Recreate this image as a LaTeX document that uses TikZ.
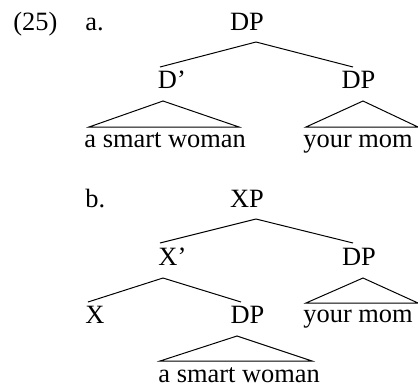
\documentclass[tikz,border=0pt]{standalone}
\usepackage{fontspec}
\setmainfont{Liberation Serif}
\usepackage{tikz}

\begin{document}
\begin{tikzpicture}[x=0.4545pt,y=-0.4545pt,font=\fontsize{12}{14.4}\selectfont,
  lbl/.style={inner sep=0pt,anchor=base west},
  cat/.style={inner sep=0pt,anchor=base},
  br/.style={line width=0.45pt}]
\useasboundingbox (0,0) rectangle (418,385);
% (25a)
\node[lbl] (num) at (13,30) {(25)};
\node[lbl] (ia) at (85,30) {a.};
\node[cat] (dpa) at (247,30) {DP};
\node[lbl] (dbar) at (157.5,88) {D’};
\node[cat] (dpr) at (358.5,88) {DP};
\node[lbl] (wa) at (84,147) {a smart woman};
\node[lbl] (ma) at (303,147) {your mom};
\draw[br] ([shift={(9,12)}]dpa.base) -- ([shift={(2.5,-21)}]dbar.base west);
\draw[br] ([shift={(9,12)}]dpa.base) -- ([shift={(-5.5,-21)}]dpr.base);
\draw[br] ([shift={(5.5,13)}]dbar.base west) -- ([shift={(5,-20)}]wa.base west)
  -- ([shift={(155,-20)}]wa.base west) -- cycle;
\draw[br] ([shift={(4.5,13)}]dpr.base) -- ([shift={(3,-20)}]ma.base west)
  -- ([shift={(115,-20)}]ma.base west) -- cycle;
% (25b)
\node[lbl] (ib) at (85,207) {b.};
\node[cat] (xp) at (247,207) {XP};
\node[lbl] (xbar) at (158,265) {X’};
\node[cat] (dpb) at (359,265) {DP};
\node[lbl] (xh) at (85,323) {X};
\node[cat] (dpc) at (247.5,323) {DP};
\node[lbl] (mb) at (303,322) {your mom};
\node[lbl] (wb) at (158,382) {a smart woman};
\draw[br] ([shift={(9,12)}]xp.base) -- ([shift={(2,-22)}]xbar.base west);
\draw[br] ([shift={(9,12)}]xp.base) -- ([shift={(-6,-22)}]dpb.base);
\draw[br] ([shift={(5,13)}]xbar.base west) -- ([shift={(3,-21)}]xh.base west);
\draw[br] ([shift={(5,13)}]xbar.base west) -- ([shift={(-6.5,-21)}]dpc.base);
\draw[br] ([shift={(4,13)}]dpb.base) -- ([shift={(3,-19)}]mb.base west)
  -- ([shift={(115,-19)}]mb.base west) -- cycle;
\draw[br] ([shift={(-10.5,13)}]dpc.base) -- ([shift={(2,-21)}]wb.base west)
  -- ([shift={(154,-21)}]wb.base west) -- cycle;
\end{tikzpicture}
\end{document}
